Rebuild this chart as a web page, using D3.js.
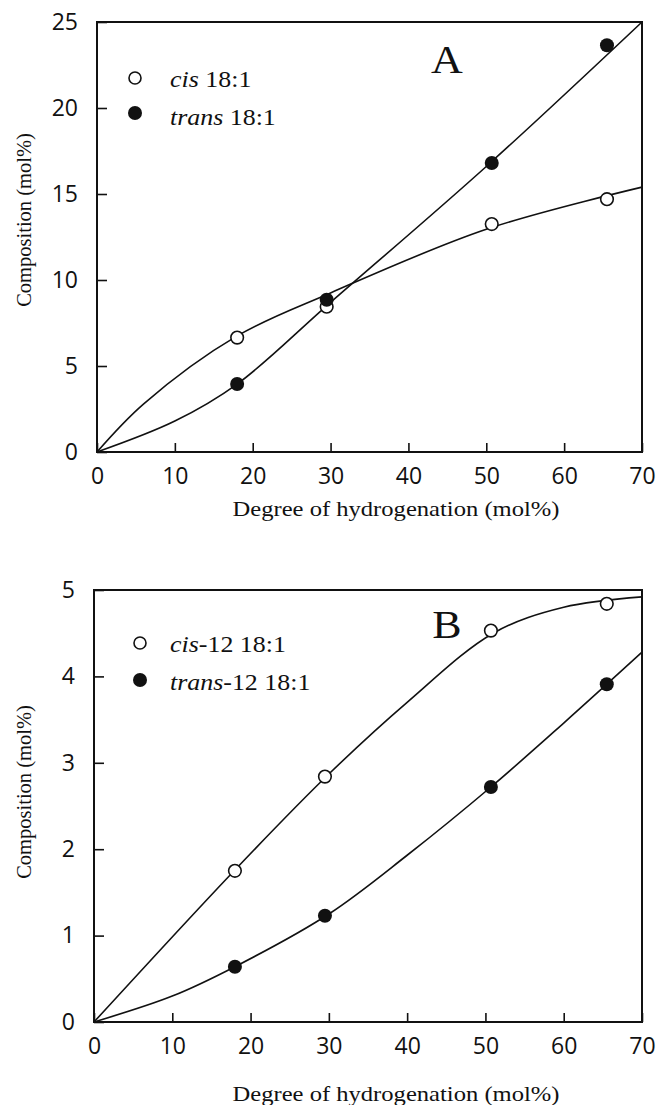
<!DOCTYPE html>
<html>
<head>
<meta charset="utf-8">
<script src="https://cdn.jsdelivr.net/npm/d3@7/dist/d3.min.js"></script>
<style>
  body { margin: 0; background: #fff; }
  svg { display: block; }
  .tick text { font-family: "Open Sans", sans-serif; font-size: 23px; fill: #111; }
  .serif { font-family: "Liberation Serif", "Times New Roman", serif; fill: #111; }
</style>
</head>
<body>
<div id="chart"></div>
<script>
// measured points (degree of hydrogenation, mol%)
var hydrogenation = [18, 29.5, 50.7, 65.5];
var cisA = [6.65, 8.45, 13.25, 14.7];
var transA = [3.95, 8.85, 16.8, 23.65];
var cisB = [1.75, 2.84, 4.53, 4.84];
var transB = [0.64, 1.23, 2.72, 3.91];

// fitted curves
var fitX_A = [0, 6, 18, 30, 50, 70];
var cisFitA = [0, 2.8, 6.75, 9.25, 12.95, 15.4];
var fitX_A2 = [0, 10, 18, 30, 50, 70];
var transFitA = [0, 1.8, 3.95, 8.7, 16.6, 25];
var fitX_B = [0, 18, 30, 40, 51, 60, 70];
var cisFitB = [0, 1.76, 2.87, 3.7, 4.5, 4.8, 4.92];
var fitX_B2 = [0, 10, 18, 30, 40, 50.7, 60, 70];
var transFitB = [0, 0.3, 0.64, 1.25, 1.93, 2.72, 3.46, 4.28];

var xTicks = [0, 10, 20, 30, 40, 50, 60, 70];
var yTicksA = [0, 5, 10, 15, 20, 25];
var yTicksB = [0, 1, 2, 3, 4, 5];

var W = 659, H = 1105;
var svg = d3.select('#chart').append('svg').attr('width', W).attr('height', H);

var zip = function(xs, ys) { return xs.map(function(x, i) { return [x, ys[i]]; }); };

var panels = [
  {
    letter: 'A', left: 97, right: 642, top: 22, bottom: 452, yMax: 25, yTicks: yTicksA,
    cis: cisA, trans: transA,
    cisFit: zip(fitX_A, cisFitA), transFit: zip(fitX_A2, transFitA),
    legend: ['cis', ' 18:1', 'trans', ' 18:1'],
    legX: 135, legY: [78, 113], legTextX: 170, legBase: [87, 125],
    letterX: 447, letterY: 73,
    yTitleX: 24, yTitleY: 220, xTitleX: 396, xTitleY: 516
  },
  {
    letter: 'B', left: 94, right: 642, top: 590, bottom: 1022, yMax: 5, yTicks: yTicksB,
    cis: cisB, trans: transB,
    cisFit: zip(fitX_B, cisFitB), transFit: zip(fitX_B2, transFitB),
    legend: ['cis', '-12 18:1', 'trans', '-12 18:1'],
    legX: 140, legY: [643, 680], legTextX: 170, legBase: [652, 690],
    letterX: 447, letterY: 638,
    yTitleX: 24, yTitleY: 792, xTitleX: 396, xTitleY: 1101
  }
];

panels.forEach(function(p) {
  var x = d3.scaleLinear().domain([0, 70]).range([p.left, p.right]);
  var y = d3.scaleLinear().domain([0, p.yMax]).range([p.bottom, p.top]);
  var g = svg.append('g');

  // axes with inward ticks
  var xa = g.append('g').attr('transform', 'translate(0,' + p.bottom + ')')
    .call(d3.axisBottom(x).tickValues(xTicks).tickFormat(d3.format('d'))
      .tickSizeInner(-9).tickSizeOuter(0).tickPadding(16));
  var ya = g.append('g').attr('transform', 'translate(' + p.left + ',0)')
    .call(d3.axisLeft(y).tickValues(p.yTicks).tickFormat(d3.format('d'))
      .tickSizeInner(-10).tickSizeOuter(0).tickPadding(19));
  [xa, ya].forEach(function(a) {
    a.select('.domain').remove();
    a.selectAll('.tick line').attr('stroke', '#111').attr('stroke-width', 1.6);
  });

  // frame
  g.append('rect')
    .attr('x', p.left).attr('y', p.top)
    .attr('width', p.right - p.left).attr('height', p.bottom - p.top)
    .attr('fill', 'none').attr('stroke', '#111').attr('stroke-width', 2);

  // fitted curves
  var line = d3.line().x(function(d) { return x(d[0]); }).y(function(d) { return y(d[1]); })
    .curve(d3.curveCatmullRom.alpha(0.5));
  [p.cisFit, p.transFit].forEach(function(c) {
    g.append('path').attr('d', line(c))
      .attr('fill', 'none').attr('stroke', '#111').attr('stroke-width', 1.6);
  });

  // markers
  g.selectAll('.cis').data(zip(hydrogenation, p.cis)).enter().append('circle')
    .attr('cx', function(d) { return x(d[0]); }).attr('cy', function(d) { return y(d[1]); })
    .attr('r', 6.3).attr('fill', '#fff').attr('stroke', '#111').attr('stroke-width', 1.6);
  g.selectAll('.trans').data(zip(hydrogenation, p.trans)).enter().append('circle')
    .attr('cx', function(d) { return x(d[0]); }).attr('cy', function(d) { return y(d[1]); })
    .attr('r', 7).attr('fill', '#111');

  // legend
  g.append('circle').attr('cx', p.legX).attr('cy', p.legY[0]).attr('r', 6)
    .attr('fill', '#fff').attr('stroke', '#111').attr('stroke-width', 1.6);
  g.append('circle').attr('cx', p.legX).attr('cy', p.legY[1]).attr('r', 7).attr('fill', '#111');
  [0, 1].forEach(function(i) {
    var t = g.append('text').attr('class', 'serif')
      .attr('transform', 'translate(' + p.legTextX + ',' + p.legBase[i] + ') scale(1.08,1)')
      .style('font-size', '24px');
    t.append('tspan').style('font-style', 'italic').text(p.legend[i * 2]);
    t.append('tspan').text(p.legend[i * 2 + 1]);
  });

  // panel letter
  g.append('text').attr('class', 'serif')
    .attr('transform', 'translate(' + p.letterX + ',' + p.letterY + ') scale(1.1,1)')
    .attr('text-anchor', 'middle').style('font-size', '40px').text(p.letter);

  // axis titles
  g.append('text').attr('class', 'serif')
    .attr('transform', 'translate(' + p.yTitleX + ',' + p.yTitleY + ') rotate(-90)')
    .attr('text-anchor', 'middle').attr('dy', '0.35em').style('font-size', '20.5px')
    .text('Composition (mol%)');
  g.append('text').attr('class', 'serif')
    .attr('transform', 'translate(' + p.xTitleX + ',' + p.xTitleY + ') scale(1.2,1)')
    .attr('text-anchor', 'middle').style('font-size', '20.5px')
    .text('Degree of hydrogenation (mol%)');
});
</script>
</body>
</html>
